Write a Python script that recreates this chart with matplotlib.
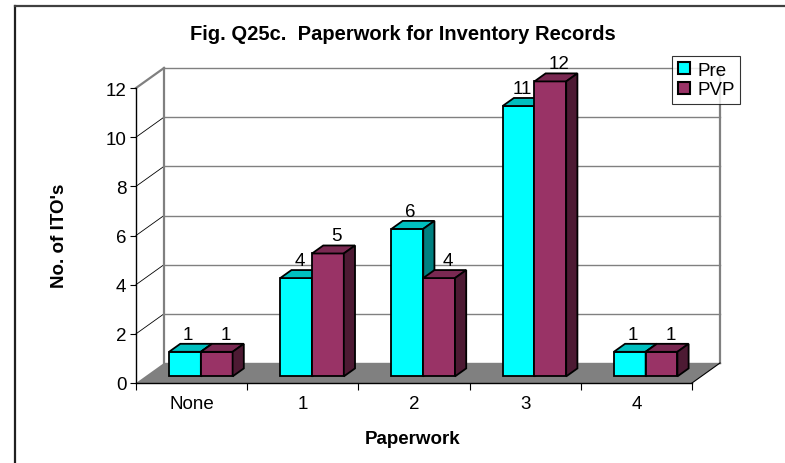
import matplotlib
matplotlib.use("Agg")
import matplotlib.pyplot as plt
from matplotlib.patches import Polygon
from matplotlib.lines import Line2D

plt.rcParams['font.family'] = ['Liberation Sans', 'DejaVu Sans']

# ---- data ----
categories = ["None", "1", "2", "3", "4"]
pre_values = [1, 4, 6, 11, 1]
pvp_values = [1, 5, 4, 12, 1]
series_names = ["Pre", "PVP"]
y_ticks = [0, 2, 4, 6, 8, 10, 12]
title = "Fig. Q25c.  Paperwork for Inventory Records"
x_title = "Paperwork"
y_title = "No. of ITO's"

# ---- styling ----
W, H = 785, 464
DPI = 100
FS = 13.5
face = {"Pre": ("#00FFFF", "#00BFBF", "#008080"),
        "PVP": ("#993366", "#7A2952", "#4D1A33")}
wall_grey = "#808080"

fig = plt.figure(figsize=(W / DPI, H / DPI), dpi=DPI)
fig.patch.set_facecolor("white")

# front plane of the 3-D plot area, in pixels
left_px, right_px, bottom_px, top_px = 136, 692, 384, 89
ax = fig.add_axes([left_px / W, (H - bottom_px) / H,
                   (right_px - left_px) / W, (bottom_px - top_px) / H])
ncat = len(categories)
ax.set_xlim(0, ncat)
ax.set_ylim(0, 12)
ax.set_facecolor("none")

# depth offset of the back wall, in data units
px_per_x = (right_px - left_px) / ncat
px_per_y = (bottom_px - top_px) / 12
DX = 28 / px_per_x
DY = 20 / px_per_y


def P(x, y, d):
    """Project (category x, value y, depth fraction d) onto the front plane."""
    return (x + d * DX, y + d * DY)


def poly(pts, fc, ec="none", lw=0.0, z=1):
    ax.add_patch(Polygon(pts, closed=True, facecolor=fc, edgecolor=ec,
                         linewidth=lw, zorder=z, clip_on=False,
                         joinstyle="miter"))


# back wall gridlines
for t in y_ticks:
    ax.add_line(Line2D([P(0, t, 1)[0], P(ncat, t, 1)[0]],
                       [P(0, t, 1)[1], P(ncat, t, 1)[1]],
                       color=wall_grey, lw=1.0, zorder=1, clip_on=False))
    # side wall gridlines
    if 0 < t < 12:
        ax.add_line(Line2D([0, P(0, t, 1)[0]], [t, P(0, t, 1)[1]],
                           color="black", lw=0.6, zorder=1, clip_on=False))
# wall outlines
ax.add_line(Line2D([P(0, 0, 1)[0], P(0, 12, 1)[0]],
                   [P(0, 0, 1)[1], P(0, 12, 1)[1]],
                   color=wall_grey, lw=1.6, zorder=1, clip_on=False))
ax.add_line(Line2D([P(ncat, 0, 1)[0], P(ncat, 12, 1)[0]],
                   [P(ncat, 0, 1)[1], P(ncat, 12, 1)[1]],
                   color=wall_grey, lw=1.6, zorder=1, clip_on=False))
ax.add_line(Line2D([0, P(0, 12, 1)[0]], [12, P(0, 12, 1)[1]],
                   color=wall_grey, lw=1.6, zorder=1, clip_on=False))

# floor
poly([P(0, 0, 0), P(ncat, 0, 0), P(ncat, 0, 1), P(0, 0, 1)], wall_grey, z=2)
ax.add_line(Line2D([ncat, P(ncat, 0, 1)[0]], [0, P(ncat, 0, 1)[1]],
                   color="black", lw=0.8, zorder=2, clip_on=False))

# bars
bw = 1 / 3.5            # gap width 150 %
d0, d1 = 0.33, 0.73     # depth span of the bars
for i in range(ncat):
    for k, (name, vals) in enumerate(zip(series_names, [pre_values, pvp_values])):
        v = vals[i]
        x0 = i + 0.75 * bw + k * bw
        x1 = x0 + bw
        fc, tc, sc = face[name]
        z = 3 + i * 2 + k
        # front face
        poly([P(x0, 0, d0), P(x1, 0, d0), P(x1, v, d0), P(x0, v, d0)],
             fc, "black", 1.3, z)
        # top face
        poly([P(x0, v, d0), P(x1, v, d0), P(x1, v, d1), P(x0, v, d1)],
             tc, "black", 1.3, z)
        # side face
        poly([P(x1, 0, d0), P(x1, 0, d1), P(x1, v, d1), P(x1, v, d0)],
             sc, "black", 1.3, z)
        # value label
        lx, _ = P((x0 + x1) / 2, v, d0)
        _, ly = P(x0, v, d1)
        ax.text(lx + 0.03 + 0.05 * k, ly + 0.05, str(v), ha="center",
                va="bottom", fontsize=FS, zorder=40, clip_on=False)

# axes / ticks
for s in ["top", "right"]:
    ax.spines[s].set_visible(False)
for s in ["left", "bottom"]:
    ax.spines[s].set_color("black")
    ax.spines[s].set_linewidth(1.0)
    ax.spines[s].set_zorder(30)
ax.set_yticks(y_ticks)
ax.set_yticklabels([str(t) for t in y_ticks], fontsize=FS)
ax.tick_params(axis="y", direction="out", length=4, width=0.8, pad=3)
ax.set_xticks(range(ncat + 1))
ax.set_xticklabels([])
ax.set_xticks([i + 0.5 for i in range(ncat)], minor=True)
ax.set_xticklabels(categories, minor=True, fontsize=FS)
ax.tick_params(axis="x", which="major", direction="out", length=5, width=0.8)
ax.tick_params(axis="x", which="minor", length=0, pad=9)

# titles
fig.text(403 / W, 1 - 34 / H, title, ha="center", va="center",
         fontsize=14.5, fontweight="bold")
fig.text(413 / W, 1 - 440 / H, x_title, ha="center", va="center",
         fontsize=FS, fontweight="bold")
fig.text(60 / W, 1 - 236 / H, y_title, ha="center", va="center",
         rotation=90, fontsize=FS, fontweight="bold")

# legend
handles = [Polygon([[0, 0]], facecolor=face[n][0], edgecolor="black",
                   linewidth=1.5) for n in series_names]
leg = fig.legend(handles, series_names, loc="upper left",
                 bbox_to_anchor=(672 / W, 1 - 57 / H), fontsize=FS,
                 frameon=True, fancybox=False, edgecolor="black",
                 handlelength=0.65, handleheight=0.65, handletextpad=0.4,
                 borderpad=0.3, labelspacing=0.15, borderaxespad=0)
leg.get_frame().set_linewidth(0.8)
leg._legend_box.align = "left"

# outer frame
fig.add_artist(Line2D([14.5 / W, 14.5 / W], [0, 1 - 6.5 / H],
                      transform=fig.transFigure, color="#202020", lw=1.6))
fig.add_artist(Line2D([14.5 / W, 1], [1 - 6.5 / H, 1 - 6.5 / H],
                      transform=fig.transFigure, color="#404040", lw=1.6))

fig.savefig("out.png", dpi=DPI)
